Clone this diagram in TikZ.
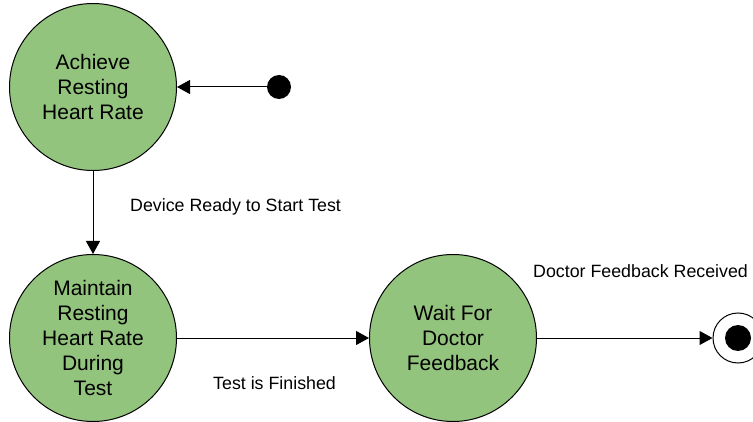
\documentclass[tikz,border=0pt]{standalone}
\usepackage{fontspec}
\setmainfont{Liberation Sans}
\usetikzlibrary{arrows.meta}
\definecolor{stategreen}{RGB}{147,196,125}
\begin{document}
\begin{tikzpicture}[x=1pt,y=1pt,
  state/.style={circle, draw=black, line width=1pt, fill=stategreen, minimum size=167pt, inner sep=0pt, align=center, font=\fontsize{21}{25}\selectfont},
  lbl/.style={font=\fontsize{17.8}{21}\selectfont, inner sep=0pt, anchor=west},
  conn/.style={draw=black, line width=1pt, -{Triangle[length=13pt,width=14pt]}},
]
\useasboundingbox (0,0) rectangle (753,421);
\node[state] (a) at (93,334) {Achieve\\Resting\\Heart Rate};
\node[state] (m) at (93,83) {Maintain\\Resting\\Heart Rate\\During\\Test};
\node[state] (w) at (453,83) {Wait For\\Doctor\\Feedback};
\node[circle, fill=black, minimum size=24pt, inner sep=0pt] (init) at (279,334) {};
\node[circle, draw=black, line width=1pt, fill=white, minimum size=50pt, inner sep=0pt] (fin) at (738,83) {};
\node[circle, fill=black, minimum size=26pt, inner sep=0pt] (finc) at (738,83) {};
\draw[conn] (init) -- (a);
\draw[conn] (a) -- (m);
\draw[conn] (m) -- (w);
\draw[conn] (w) -- (fin);
\node[lbl] (l1) at (130,214) {Device Ready to Start Test};
\node[lbl] (l2) at (213,38) {Test is Finished};
\node[lbl] (l3) at (533,150) {Doctor Feedback Received};
\end{tikzpicture}
\end{document}
